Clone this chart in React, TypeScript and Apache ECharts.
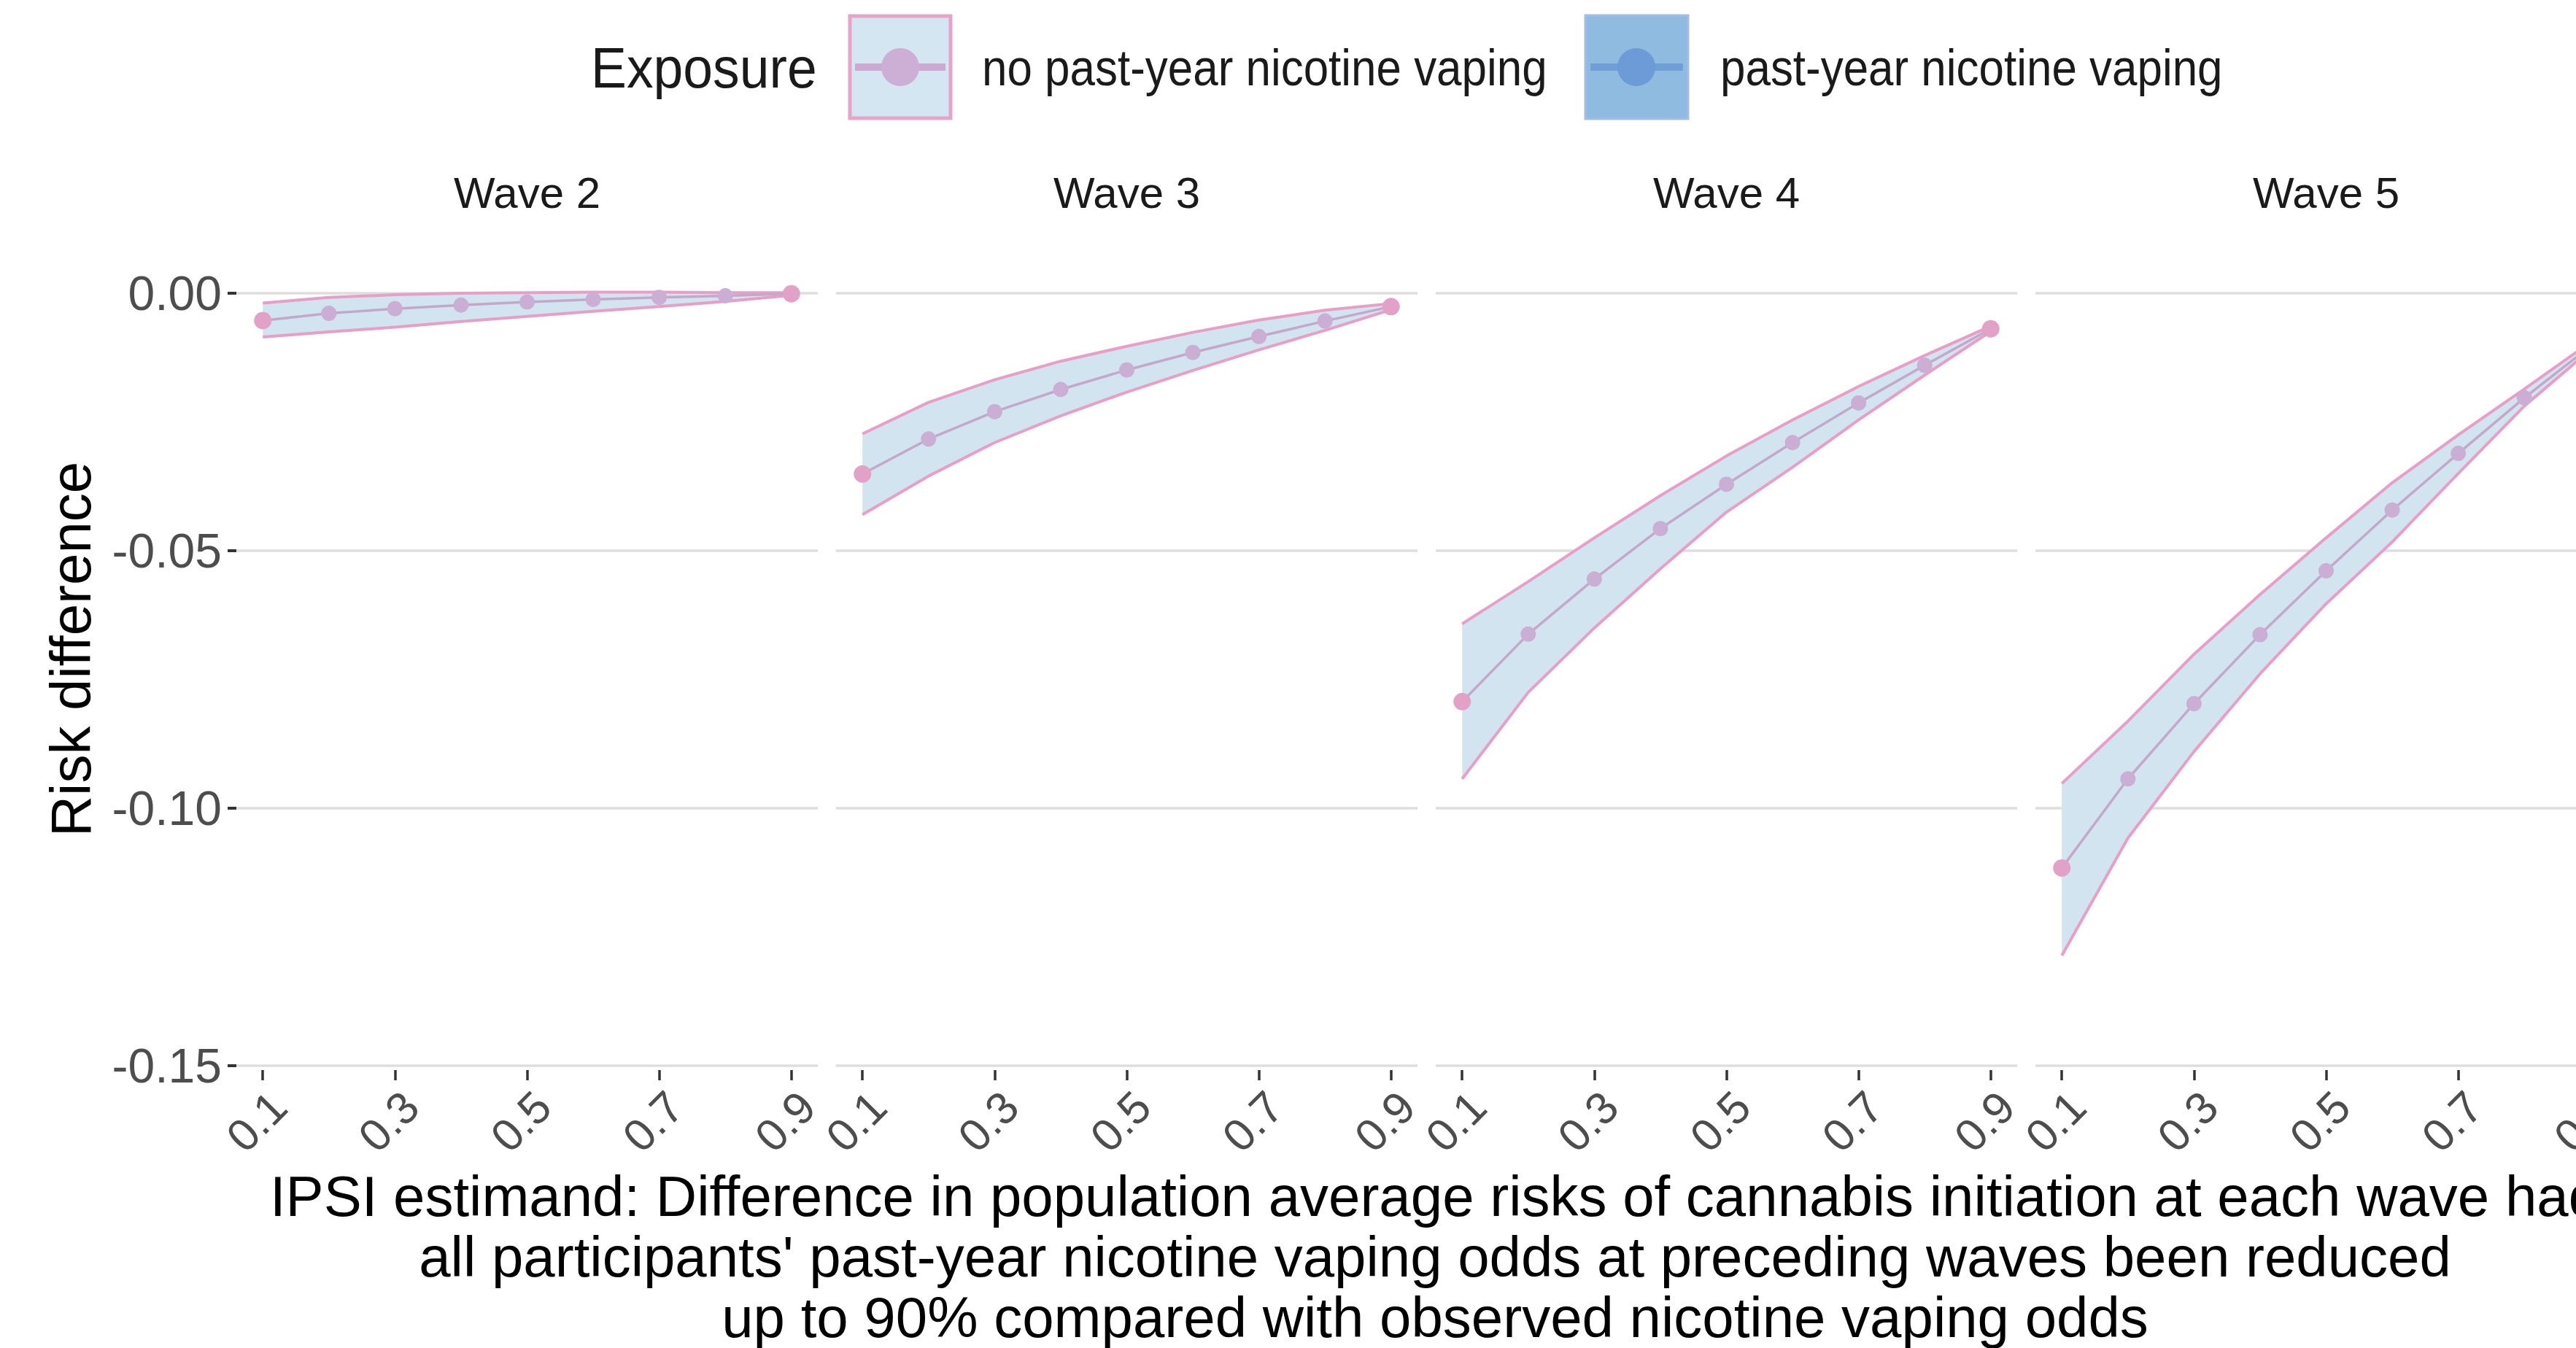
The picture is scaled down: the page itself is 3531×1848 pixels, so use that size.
import React, { useEffect, useRef } from "react";
import * as echarts from "echarts";

// ---------- data ----------
const probs = [0.1, 0.2, 0.3, 0.4, 0.5, 0.6, 0.7, 0.8, 0.9];
const xTickValues = [0.1, 0.3, 0.5, 0.7, 0.9];
const waveNames = ["Wave 2", "Wave 3", "Wave 4", "Wave 5"];

const wave2Est = [-0.0053, -0.0039, -0.003, -0.0023, -0.0017, -0.0012, -0.0008, -0.0005, -0.0001];
const wave2Hi = [-0.0019, -0.0008, -0.0003, 0.0, 0.0001, 0.0002, 0.0002, 0.0001, 0.0001];
const wave2Lo = [-0.0085, -0.0075, -0.0066, -0.0055, -0.0045, -0.0035, -0.0026, -0.0016, -0.0004];

const wave3Est = [-0.0351, -0.0283, -0.023, -0.0187, -0.0149, -0.0115, -0.0084, -0.0054, -0.0026];
const wave3Hi = [-0.0273, -0.0212, -0.0168, -0.0132, -0.0103, -0.0076, -0.0052, -0.0033, -0.002];
const wave3Lo = [-0.043, -0.0355, -0.029, -0.0238, -0.0192, -0.015, -0.011, -0.0072, -0.0032];

const wave4Est = [-0.0793, -0.0662, -0.0555, -0.0457, -0.0371, -0.029, -0.0213, -0.014, -0.0069];
const wave4Hi = [-0.0642, -0.056, -0.0475, -0.0393, -0.0316, -0.0246, -0.0181, -0.0121, -0.0064];
const wave4Lo = [-0.0943, -0.0775, -0.065, -0.0535, -0.0425, -0.0338, -0.0246, -0.0159, -0.0074];

const wave5Est = [-0.1116, -0.0943, -0.0797, -0.0663, -0.0539, -0.0421, -0.0311, -0.0203, -0.0103];
const wave5Hi = [-0.0952, -0.0831, -0.0701, -0.0585, -0.0475, -0.0368, -0.0275, -0.0186, -0.0095];
const wave5Lo = [-0.1286, -0.1058, -0.089, -0.0739, -0.0603, -0.0483, -0.035, -0.0219, -0.011];

const estimates = [wave2Est, wave3Est, wave4Est, wave5Est];
const uppers = [wave2Hi, wave3Hi, wave4Hi, wave5Hi];
const lowers = [wave2Lo, wave3Lo, wave4Lo, wave5Lo];

const legendTitle = "Exposure";
const legendLabels = ["no past-year nicotine vaping", "past-year nicotine vaping"];
const yTitle = "Risk difference";
const xTitleLines = [
  "IPSI estimand: Difference in population average risks of cannabis initiation at each wave had",
  "all participants' past-year nicotine vaping odds at preceding waves been reduced",
  "up to 90% compared with observed nicotine vaping odds",
];

// ---------- layout ----------
// The reference figure is cropped on its right side: the canvas is wider than the page.
const CHART_W = 3720;
const H = 1848;
const PANEL_LEFT0 = 324;
const PANEL_STEP = 822;
const PANEL_W = 797;
const PANEL_TOP = 402;
const PANEL_H = 1059;
const FONT = "'Liberation Sans', Arial, Helvetica, sans-serif";

const RIBBON = "#D2E4F0";
const EDGE = "#E79FC6";
const MEAN_LINE = "#C4A8CB";
const POINT = "#CBAED3";
const END_POINT = "#E2A1C7";

export default function App() {
  const ref = useRef<HTMLDivElement>(null);

  useEffect(() => {
    if (!ref.current) return;
    const chart = echarts.init(ref.current, undefined, { renderer: "svg" });

    const grids: any[] = [];
    const xAxes: any[] = [];
    const yAxes: any[] = [];
    const series: any[] = [];
    const graphics: any[] = [];

    for (let i = 0; i < 4; i++) {
      const left = PANEL_LEFT0 + PANEL_STEP * i;
      grids.push({ left, top: PANEL_TOP, width: PANEL_W, height: PANEL_H, containLabel: false });
      xAxes.push({
        gridIndex: i,
        type: "value",
        min: 0.06,
        max: 0.94,
        offset: 6,
        axisLine: { show: false, onZero: false },
        splitLine: { show: false },
        axisTick: {
          show: true,
          customValues: xTickValues,
          length: 14,
          lineStyle: { color: "#333333", width: 3.5 },
        },
        axisLabel: {
          customValues: xTickValues,
          formatter: (v: number) => v.toFixed(1),
          rotate: 45,
          fontSize: 62,
          fontFamily: FONT,
          color: "#4D4D4D",
          margin: 18,
          verticalAlign: "top",
        },
      });
      yAxes.push({
        gridIndex: i,
        type: "value",
        min: -0.15,
        max: 0,
        interval: 0.05,
        axisLine: { show: false, onZero: false },
        axisTick: { show: i === 0, length: 12, lineStyle: { color: "#333333", width: 4 } },
        axisLabel: {
          show: i === 0,
          fontSize: 66,
          fontFamily: FONT,
          color: "#4D4D4D",
          margin: 20,
          formatter: (v: number) => v.toFixed(2),
        },
        splitLine: { show: true, lineStyle: { color: "#DEDEDE", width: 3.5 } },
      });

      const est = estimates[i];
      const hi = uppers[i];
      const lo = lowers[i];

      // ribbon (one polygon through the library's coordinate system)
      series.push({
        type: "custom",
        xAxisIndex: i,
        yAxisIndex: i,
        data: probs.map((p, k) => [p, lo[k], hi[k]]),
        encode: { x: 0, y: [1, 2] },
        clip: false,
        silent: true,
        renderItem: (params: any, api: any) => {
          if (params.dataIndexInside !== 0) return null;
          const n = params.dataInsideLength;
          const top: number[][] = [];
          const bottom: number[][] = [];
          for (let k = 0; k < n; k++) {
            const x = api.value(0, k);
            top.push(api.coord([x, api.value(2, k)]));
            bottom.push(api.coord([x, api.value(1, k)]));
          }
          return {
            type: "polygon",
            shape: { points: top.concat(bottom.reverse()) },
            style: { fill: RIBBON, stroke: "none" },
          };
        },
        z: 1,
      });
      series.push({
        type: "line",
        xAxisIndex: i,
        yAxisIndex: i,
        data: probs.map((p, k) => [p, hi[k]]),
        symbol: "none",
        lineStyle: { color: EDGE, width: 4 },
        silent: true,
        clip: false,
        z: 2,
      });
      series.push({
        type: "line",
        xAxisIndex: i,
        yAxisIndex: i,
        data: probs.map((p, k) => [p, lo[k]]),
        symbol: "none",
        lineStyle: { color: EDGE, width: 4 },
        silent: true,
        clip: false,
        z: 2,
      });
      series.push({
        type: "line",
        xAxisIndex: i,
        yAxisIndex: i,
        data: probs.map((p, k) => {
          const isEnd = k === 0 || k === probs.length - 1;
          return isEnd
            ? { value: [p, est[k]], symbolSize: 24, itemStyle: { color: END_POINT } }
            : { value: [p, est[k]] };
        }),
        symbol: "circle",
        symbolSize: 21,
        showSymbol: true,
        lineStyle: { color: MEAN_LINE, width: 3.5 },
        itemStyle: { color: POINT },
        silent: true,
        clip: false,
        z: 3,
      });

      graphics.push({
        type: "text",
        x: left + PANEL_W / 2,
        y: 264,
        style: {
          text: waveNames[i],
          fontSize: 60,
          fontFamily: FONT,
          fill: "#1A1A1A",
          align: "center",
          verticalAlign: "middle",
        },
      });
    }

    // legend
    graphics.push({
      type: "text",
      x: 810,
      y: 93,
      scaleX: 0.94,
      style: { text: legendTitle, fontSize: 78, fontFamily: FONT, fill: "#1A1A1A", align: "left", verticalAlign: "middle" },
    });
    graphics.push({
      type: "rect",
      shape: { x: 1165, y: 22, width: 138, height: 140 },
      style: { fill: "#D4E6F1", stroke: "#E6A4C8", lineWidth: 5 },
    });
    graphics.push({
      type: "line",
      shape: { x1: 1172, y1: 92, x2: 1296, y2: 92 },
      style: { stroke: "#CBA9D1", lineWidth: 10 },
    });
    graphics.push({ type: "circle", shape: { cx: 1234, cy: 92, r: 26 }, style: { fill: "#CDAED4" } });
    graphics.push({
      type: "text",
      x: 1346,
      y: 93,
      scaleX: 0.885,
      style: { text: legendLabels[0], fontSize: 70, fontFamily: FONT, fill: "#1A1A1A", align: "left", verticalAlign: "middle" },
    });
    graphics.push({
      type: "rect",
      shape: { x: 2173, y: 21, width: 141, height: 142 },
      style: { fill: "#8FBBE0", stroke: "#A3BCE8", lineWidth: 3 },
    });
    graphics.push({
      type: "line",
      shape: { x1: 2180, y1: 92, x2: 2307, y2: 92 },
      style: { stroke: "#6F9ED8", lineWidth: 10 },
    });
    graphics.push({ type: "circle", shape: { cx: 2243, cy: 92, r: 26 }, style: { fill: "#6D9BD7" } });
    graphics.push({
      type: "text",
      x: 2358,
      y: 93,
      scaleX: 0.885,
      style: { text: legendLabels[1], fontSize: 70, fontFamily: FONT, fill: "#1A1A1A", align: "left", verticalAlign: "middle" },
    });

    // axis titles
    graphics.push({
      type: "text",
      x: 97,
      y: 890,
      rotation: Math.PI / 2,
      style: { text: yTitle, fontSize: 78, fontFamily: FONT, fill: "#000000", align: "center", verticalAlign: "middle" },
    });
    xTitleLines.forEach((line, idx) => {
      graphics.push({
        type: "text",
        x: 1967,
        y: 1640 + idx * 83,
        style: { text: line, fontSize: 78, fontFamily: FONT, fill: "#000000", align: "center", verticalAlign: "middle" },
      });
    });

    chart.setOption({
      animation: false,
      backgroundColor: "#FFFFFF",
      grid: grids,
      xAxis: xAxes,
      yAxis: yAxes,
      series,
      graphic: graphics,
    });

    return () => chart.dispose();
  }, []);

  return (
    <div style={{ position: "fixed", left: 0, top: 0, width: "100vw", height: "100vh", overflow: "hidden", background: "#FFFFFF" }}>
      <div ref={ref} style={{ position: "absolute", left: 0, top: 0, width: CHART_W, height: H }} />
    </div>
  );
}
